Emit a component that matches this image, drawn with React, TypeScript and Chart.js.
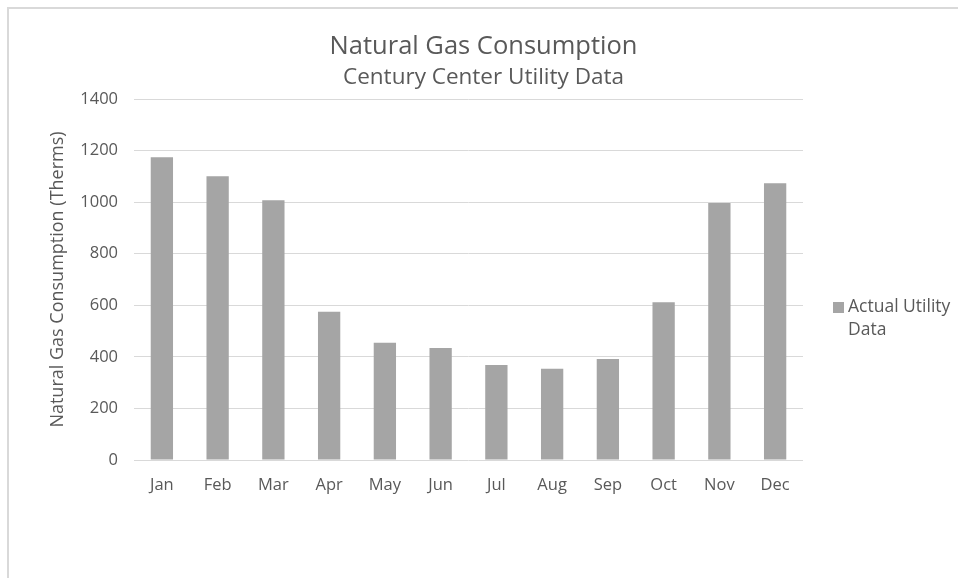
import React, { useEffect, useRef } from "react";
import { Chart, registerables } from "chart.js";

Chart.register(...registerables);

const months = ["Jan", "Feb", "Mar", "Apr", "May", "Jun", "Jul", "Aug", "Sep", "Oct", "Nov", "Dec"];
const actualUtility = [1174, 1100, 1007, 575, 455, 434, 368, 354, 392, 612, 997, 1073];
const seriesLabel = "Actual Utility Data";
const chartTitle = "Natural Gas Consumption";
const chartSubtitle = "Century Center Utility Data";
const yAxisTitle = "Natural Gas Consumption (Therms)";

const FONT = "'Open Sans', 'Noto Sans', sans-serif";
const TEXT = "#595959";
const BAR = "#a5a5a5";
const GRID = "#d9d9d9";

const legendPlugin = {
  id: "sideLegend",
  afterDraw(chart: any) {
    const ctx = chart.ctx;
    const ds = chart.data.datasets[0];
    const x0 = chart.chartArea.right + 30;
    const yMid = (chart.chartArea.top + chart.chartArea.bottom) / 2;
    ctx.save();
    ctx.font = `17.5px ${FONT}`;
    const words = String(ds.label).split(" ");
    const maxW = 115;
    const lines: string[] = [];
    let cur = "";
    for (const w of words) {
      const test = cur ? cur + " " + w : w;
      if (ctx.measureText(test).width > maxW && cur) {
        lines.push(cur);
        cur = w;
      } else cur = test;
    }
    if (cur) lines.push(cur);
    const lh = 23;
    const firstY = yMid + 28;
    ctx.fillStyle = ds.backgroundColor;
    ctx.fillRect(x0, firstY - 5.5, 11, 11);
    ctx.fillStyle = TEXT;
    ctx.textBaseline = "middle";
    ctx.textAlign = "left";
    lines.forEach((l, i) => ctx.fillText(l, x0 + 15, firstY + i * lh));
    ctx.restore();
  },
};

export default function App() {
  const ref = useRef<HTMLCanvasElement>(null);
  useEffect(() => {
    if (!ref.current) return;
    const chart = new Chart(ref.current, {
      type: "bar",
      data: {
        labels: months,
        datasets: [
          {
            label: seriesLabel,
            data: actualUtility,
            backgroundColor: BAR,
            borderWidth: 0,
            categoryPercentage: 1,
            barPercentage: 0.4,
            yAxisID: "y",
          },
        ],
      },
      plugins: [legendPlugin],
      options: {
        responsive: false,
        animation: false,
        layout: { padding: { top: 0, bottom: 68, left: 0, right: 0 } },
        plugins: {
          legend: { display: false },
          tooltip: { enabled: false },
          title: {
            display: true,
            text: chartTitle,
            color: TEXT,
            font: { family: FONT, size: 25.5, weight: "normal" },
            padding: { top: 22.7, bottom: 0 },
          },
          subtitle: {
            display: true,
            text: chartSubtitle,
            color: TEXT,
            font: { family: FONT, size: 22.5, weight: "normal" },
            padding: { top: 2.2, bottom: 7.5 },
          },
        },
        scales: {
          x: {
            grid: { display: false, drawTicks: false },
            border: { display: false },
            ticks: { color: TEXT, font: { family: FONT, size: 16.5 }, padding: 15 },
            afterFit(scale: any) {
              scale.height = 50;
            },
          },
          y: {
            min: 0,
            max: 1400,
            ticks: {
              stepSize: 200,
              color: TEXT,
              font: { family: FONT, size: 16.5 },
              padding: 16,
              callback: (v: any) => String(v),
            },
            grid: { color: GRID, lineWidth: 1, drawTicks: false },
            border: { display: false },
            title: {
              display: true,
              text: yAxisTitle,
              color: TEXT,
              font: { family: FONT, size: 18 },
              padding: { top: 38, bottom: 0 },
            },
            afterFit(scale: any) {
              scale.width = 125;
            },
          },
          legendSpace: {
            type: "linear",
            position: "right",
            display: true,
            grid: { display: false, drawTicks: false },
            border: { display: false },
            ticks: { display: false },
            afterFit(scale: any) {
              scale.width = 155;
            },
          },
        },
      },
    });
    return () => chart.destroy();
  }, []);
  return (
    <div
      style={{
        position: "absolute",
        left: 7,
        top: 7,
        borderLeft: `2px solid ${GRID}`,
        borderTop: `2px solid ${GRID}`,
        width: 949,
        height: 569,
        background: "#fff",
      }}
    >
      <canvas ref={ref} width={949} height={569} style={{ display: "block" }} />
    </div>
  );
}
